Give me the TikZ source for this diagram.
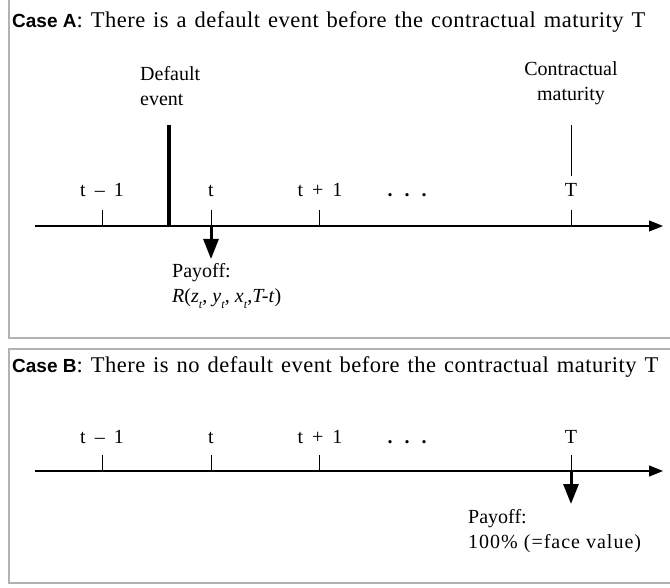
\documentclass[tikz,border=0pt]{standalone}
\usepackage{fontspec}
\setmainfont{Liberation Serif}
\newfontfamily\headfont{Liberation Sans}
\newfontfamily\titlefont[WordSpace=1.3,LetterSpace=2.2]{Liberation Serif}
\usetikzlibrary{arrows.meta}
\newcommand{\sbt}{\raisebox{-0.6ex}{\fontsize{12}{12}\selectfont\textit{t}}}
\begin{document}
\begin{tikzpicture}[x=1pt,y=-1pt,
  frame/.style={draw=black!30, line width=1.5pt},
  axisline/.style={line width=1.1pt, -{Triangle[width=11pt,length=14pt]}},
  tickline/.style={line width=0.7pt},
  defline/.style={line width=3.5pt},
  payarrow/.style={line width=3pt, -{Triangle[width=15pt,length=20pt]}},
  txt/.style={font=\fontsize{20}{25}\selectfont, inner sep=0pt},
  ttl/.style={font=\titlefont\fontsize{22.5}{24}\selectfont, inner sep=0pt, anchor=base west},
  ticklbl/.style={txt, anchor=base}
]
\useasboundingbox (0,0) rectangle (670,588);
\clip (0,0) rectangle (670,588);
% frames
\draw[frame] (680,-10) -- (9,-10) -- (9,338) -- (680,338);
\draw[frame] (680,349) -- (9,349) -- (9,583) -- (680,583);

% ---------- Case A ----------
\node[ttl] (ttlA) at (12,28) {{\headfont\bfseries\fontsize{19}{22}\selectfont Case A}: There is a default event before the contractual maturity T};

\coordinate (a0) at (35,226);
\coordinate (a1) at (663,226);
\draw[axisline] (a0) -- (a1);

\coordinate (ta1) at (102,226);
\coordinate (ta2) at (211,226);
\coordinate (ta3) at (319,226);
\coordinate (taT) at (571,226);
\coordinate (ta1u) at (102,210);
\coordinate (ta2u) at (211,210);
\coordinate (ta3u) at (319,210);
\coordinate (taTu) at (571,210);
\draw[tickline] (ta1u) -- (ta1);
\draw[tickline] (ta2u) -- (ta2);
\draw[tickline] (ta3u) -- (ta3);
\draw[tickline] (taTu) -- (taT);

\node[ticklbl] (la1) at (102,197) {t\hspace{0.45em}–\hspace{0.45em}1};
\node[ticklbl] (la2) at (211,197) {t};
\node[ticklbl] (la3) at (320,197) {t\hspace{0.45em}+\hspace{0.45em}1};
\node[ticklbl] (laD) at (407,197) {\textbf{.\hspace{0.6em}.\hspace{0.6em}.}};
\node[ticklbl] (laT) at (571,197) {T};

% default event
\coordinate (dtop) at (169,125);
\coordinate (dbot) at (169,226);
\draw[defline] (dtop) -- (dbot);
\node[txt, anchor=base west, align=left] (deflbl) at (140,106) {Default\\event};

% contractual maturity
\coordinate (cmtop) at (571,125);
\coordinate (cmbot) at (571,176);
\draw[tickline] (cmtop) -- (cmbot);
\node[txt, anchor=base, align=center] (cmlbl) at (571,101) {Contractual\\maturity};

% payoff A
\coordinate (pa) at (211,259);
\draw[payarrow] (ta2) -- (pa);
\node[txt, anchor=base west, align=left] (payA) at (172,303)
  {Payoff:\\\textit{R}(\textit{z}\sbt, \textit{y}\sbt, \textit{x}\sbt,\textit{T-t})};

% ---------- Case B ----------
\node[ttl] (ttlB) at (12,372) {{\headfont\bfseries\fontsize{19}{22}\selectfont Case B}: There is no default event before the contractual maturity T};

\coordinate (b0) at (35,471);
\coordinate (b1) at (663,471);
\draw[axisline] (b0) -- (b1);

\coordinate (tb1) at (102,471);
\coordinate (tb2) at (211,471);
\coordinate (tb3) at (319,471);
\coordinate (tbT) at (571,471);
\coordinate (tb1u) at (102,455);
\coordinate (tb2u) at (211,455);
\coordinate (tb3u) at (319,455);
\coordinate (tbTu) at (571,455);
\draw[tickline] (tb1u) -- (tb1);
\draw[tickline] (tb2u) -- (tb2);
\draw[tickline] (tb3u) -- (tb3);
\draw[tickline] (tbTu) -- (tbT);

\node[ticklbl] (lb1) at (102,443) {t\hspace{0.45em}–\hspace{0.45em}1};
\node[ticklbl] (lb2) at (211,443) {t};
\node[ticklbl] (lb3) at (320,443) {t\hspace{0.45em}+\hspace{0.45em}1};
\node[ticklbl] (lbD) at (407,443) {\textbf{.\hspace{0.6em}.\hspace{0.6em}.}};
\node[ticklbl] (lbT) at (571,443) {T};

% payoff B
\coordinate (pb) at (571,504);
\draw[payarrow] (tbT) -- (pb);
\node[txt, anchor=base west, align=left] (payB) at (468,548)
  {Payoff:\\\addfontfeatures{LetterSpace=5}100\% (=face value)};
\end{tikzpicture}
\end{document}
